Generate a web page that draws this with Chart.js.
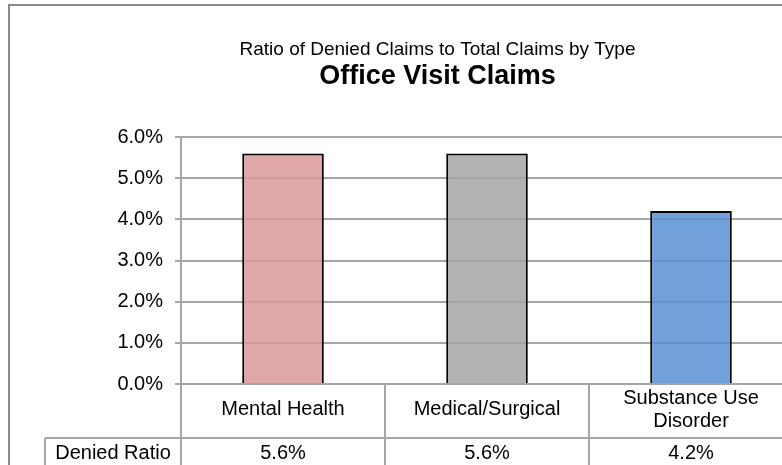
<!DOCTYPE html>
<html>
<head>
<meta charset="utf-8">
<script src="https://cdn.jsdelivr.net/npm/chart.js@4.4.0/dist/chart.umd.min.js"></script>
<style>
  html, body { margin: 0; padding: 0; background: #fff; overflow: hidden; }
  #wrap { position: relative; width: 875px; height: 465px; }
</style>
</head>
<body>
<div id="wrap"><canvas id="claims" width="875" height="465"></canvas></div>
<script>
// data
const categories = ['Mental Health', 'Medical/Surgical', ['Substance Use', 'Disorder']];
const deniedRatio = [0.056, 0.056, 0.042];
const tableRowLabel = 'Denied Ratio';
const titleText = 'Ratio of Denied Claims to Total Claims by Type';
const subtitleText = 'Office Visit Claims';

const FONT = "'Liberation Sans', Arial, sans-serif";
const LINE = '#a6a6a6';
const barFills = ['rgba(219,153,153,0.85)', 'rgba(165,165,165,0.85)', 'rgba(89,143,212,0.85)'];

const pct = v => (v * 100).toFixed(1) + '%';

// outer frame + data table under the category axis
const tablePlugin = {
    id: 'dataTable',
    afterDraw(chart) {
        const ctx = chart.ctx;
        const xs = chart.scales.x;
        const area = chart.chartArea;
        const n = categories.length;
        const half = (xs.getPixelForValue(1) - xs.getPixelForValue(0)) / 2;
        const rowY = area.bottom + 54;
        const bottom = chart.height + 5;
        const tableLeft = 45;

        ctx.save();
        ctx.strokeStyle = LINE;
        ctx.lineWidth = 2;
        ctx.beginPath();
        for (let i = 0; i <= n; i++) {
            const x = Math.round(xs.getPixelForValue(i) - half);
            ctx.moveTo(x, area.bottom);
            ctx.lineTo(x, bottom);
        }
        ctx.moveTo(tableLeft, rowY);
        ctx.lineTo(area.right, rowY);
        ctx.moveTo(tableLeft, rowY);
        ctx.lineTo(tableLeft, bottom);
        ctx.stroke();

        ctx.fillStyle = '#000';
        ctx.font = '20px ' + FONT;
        ctx.textAlign = 'center';
        ctx.textBaseline = 'middle';
        ctx.fillText(tableRowLabel, (tableLeft + area.left) / 2, rowY + 15);
        deniedRatio.forEach((v, i) => {
            ctx.fillText(pct(v), xs.getPixelForValue(i), rowY + 15);
        });

        // chart frame
        ctx.strokeStyle = '#8c8c8c';
        ctx.strokeRect(9, 5, chart.width - 18, chart.height + 20);
        ctx.restore();
    }
};

new Chart(document.getElementById('claims'), {
    type: 'bar',
    data: {
        labels: categories,
        datasets: [{
            label: tableRowLabel,
            data: deniedRatio,
            backgroundColor: barFills,
            borderColor: '#000',
            borderWidth: 2,
            categoryPercentage: 1,
            barPercentage: 0.4
        }]
    },
    options: {
        responsive: false,
        animation: false,
        devicePixelRatio: 1,
        layout: { padding: 0 },
        plugins: {
            legend: { display: false },
            tooltip: { enabled: false },
            title: {
                display: true,
                text: titleText,
                color: '#000',
                font: { family: FONT, size: 19, weight: 'normal', lineHeight: 1 },
                padding: { top: 40, bottom: 0 }
            },
            subtitle: {
                display: true,
                text: subtitleText,
                color: '#000',
                font: { family: FONT, size: 27, weight: 'bold', lineHeight: 1 },
                padding: { top: 4, bottom: 47 }
            }
        },
        scales: {
            x: {
                grid: { display: false, drawTicks: false },
                border: { display: false },
                ticks: {
                    color: '#000',
                    font: { family: FONT, size: 20, lineHeight: 1.15 },
                    padding: 14,
                    crossAlign: 'center',
                    maxRotation: 0,
                    autoSkip: false
                },
                afterFit(scale) { scale.height = 81; }
            },
            y: {
                min: 0,
                max: 0.06,
                grid: { color: LINE, lineWidth: 2, tickLength: 6 },
                border: { color: LINE, width: 2 },
                ticks: {
                    stepSize: 0.01,
                    color: '#000',
                    font: { family: FONT, size: 20 },
                    padding: 12,
                    callback: v => pct(v)
                },
                afterFit(scale) { scale.width = 181; }
            },
            // empty right-hand space of the chart, keeps the titles centred on the full frame
            yRight: {
                position: 'right',
                min: 0,
                max: 1,
                grid: { display: false, drawTicks: false },
                border: { display: false },
                ticks: { display: false },
                afterFit(scale) { scale.width = 82; }
            }
        }
    },
    plugins: [tablePlugin]
});
</script>
</body>
</html>
